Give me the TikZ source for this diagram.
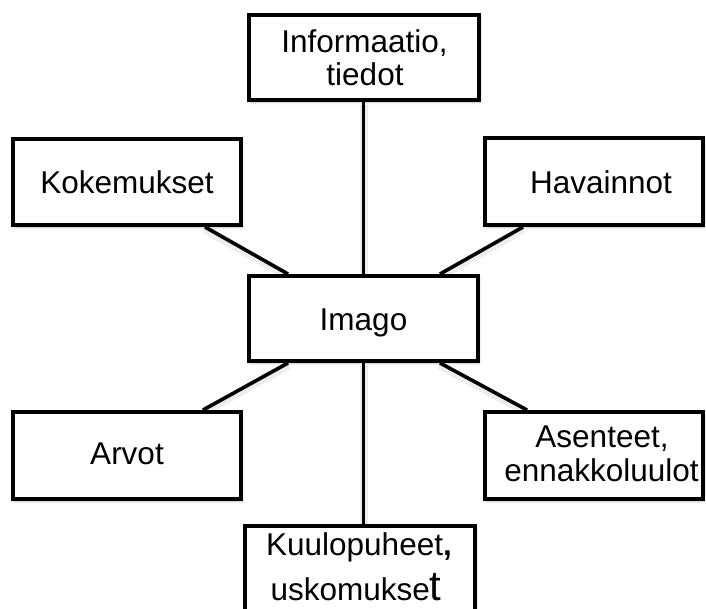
\documentclass[tikz,border=0pt]{standalone}
\usepackage{fontspec}
\setmainfont{Liberation Sans}
\usetikzlibrary{shadows.blur}
\pgfdeclarelayer{links}
\pgfsetlayers{links,main}

\tikzset{
  box/.style={rectangle, draw=black, line width=4pt, fill=white, inner sep=0pt,
    blur shadow={shadow xshift=1pt, shadow yshift=-2pt, shadow blur radius=3pt, shadow opacity=25}},
  lbl/.style={anchor=base, inner sep=0pt, font=\fontsize{31.5}{33}\selectfont},
  link/.style={line width=3.6pt, line cap=butt,
    preaction={draw=black!40, line width=8pt, opacity=.18, transform canvas={yshift=-2.5pt}}}
}

\begin{document}
\begin{tikzpicture}[x=1pt, y=-1pt]
  \useasboundingbox (0,0) rectangle (706,608);
  \clip (0,0) rectangle (706,608);

  % boxes
  \node[box, minimum width=230pt, minimum height=85pt] (info)  at (364,57.5)  {};
  \node[box, minimum width=228pt, minimum height=86pt] (koke)  at (127,182)   {};
  \node[box, minimum width=218pt, minimum height=87pt] (hava)  at (594,181.5) {};
  \node[box, minimum width=229pt, minimum height=85pt] (imago) at (363.5,318.5) {};
  \node[box, minimum width=228pt, minimum height=87pt] (arvot) at (127,455.5) {};
  \node[box, minimum width=218pt, minimum height=87pt] (asen)  at (594,455.5) {};
  \node[box, minimum width=230pt, minimum height=120pt] (kuulo) at (360,586) {};

  % labels
  \node[lbl] (infoA) at (364.5,52) {Informaatio,};
  \node[lbl] (infoB) at (365,85)   {tiedot};
  \node[lbl] (kokeL) at (127,193)  {Kokemukset};
  \node[lbl] (havaL) at (601,193)  {Havainnot};
  \node[lbl] (imagoL) at (363.5,330) {Imago};
  \node[lbl] (arvotL) at (127,464) {Arvot};
  \node[lbl] (asenA) at (602,447)  {Asenteet,};
  \node[lbl] (asenB) at (601.5,481) {ennakkoluulot};
  \node[lbl] (kuuloA) at (359,555) {Kuulopuheet\textbf{,}};
  \node[lbl] (kuuloB) at (356,600) {uskomukse{\fontsize{42}{42}\selectfont t}};

  % connectors
  \begin{pgfonlayer}{links}
    \draw[link] (imago.north |- info.south) -- (imago.north);
    \draw[link] (imago.south) -- (imago.south |- kuulo.north);
    \draw[link] ([xshift=78pt]koke.south) -- ([xshift=-75.5pt]imago.north);
    \draw[link] ([xshift=-71pt]hava.south) -- ([xshift=76.5pt]imago.north);
    \draw[link] ([xshift=-75.5pt]imago.south) -- ([xshift=76pt]arvot.north);
    \draw[link] ([xshift=76.5pt]imago.south) -- ([xshift=-67pt]asen.north);
  \end{pgfonlayer}
\end{tikzpicture}
\end{document}
